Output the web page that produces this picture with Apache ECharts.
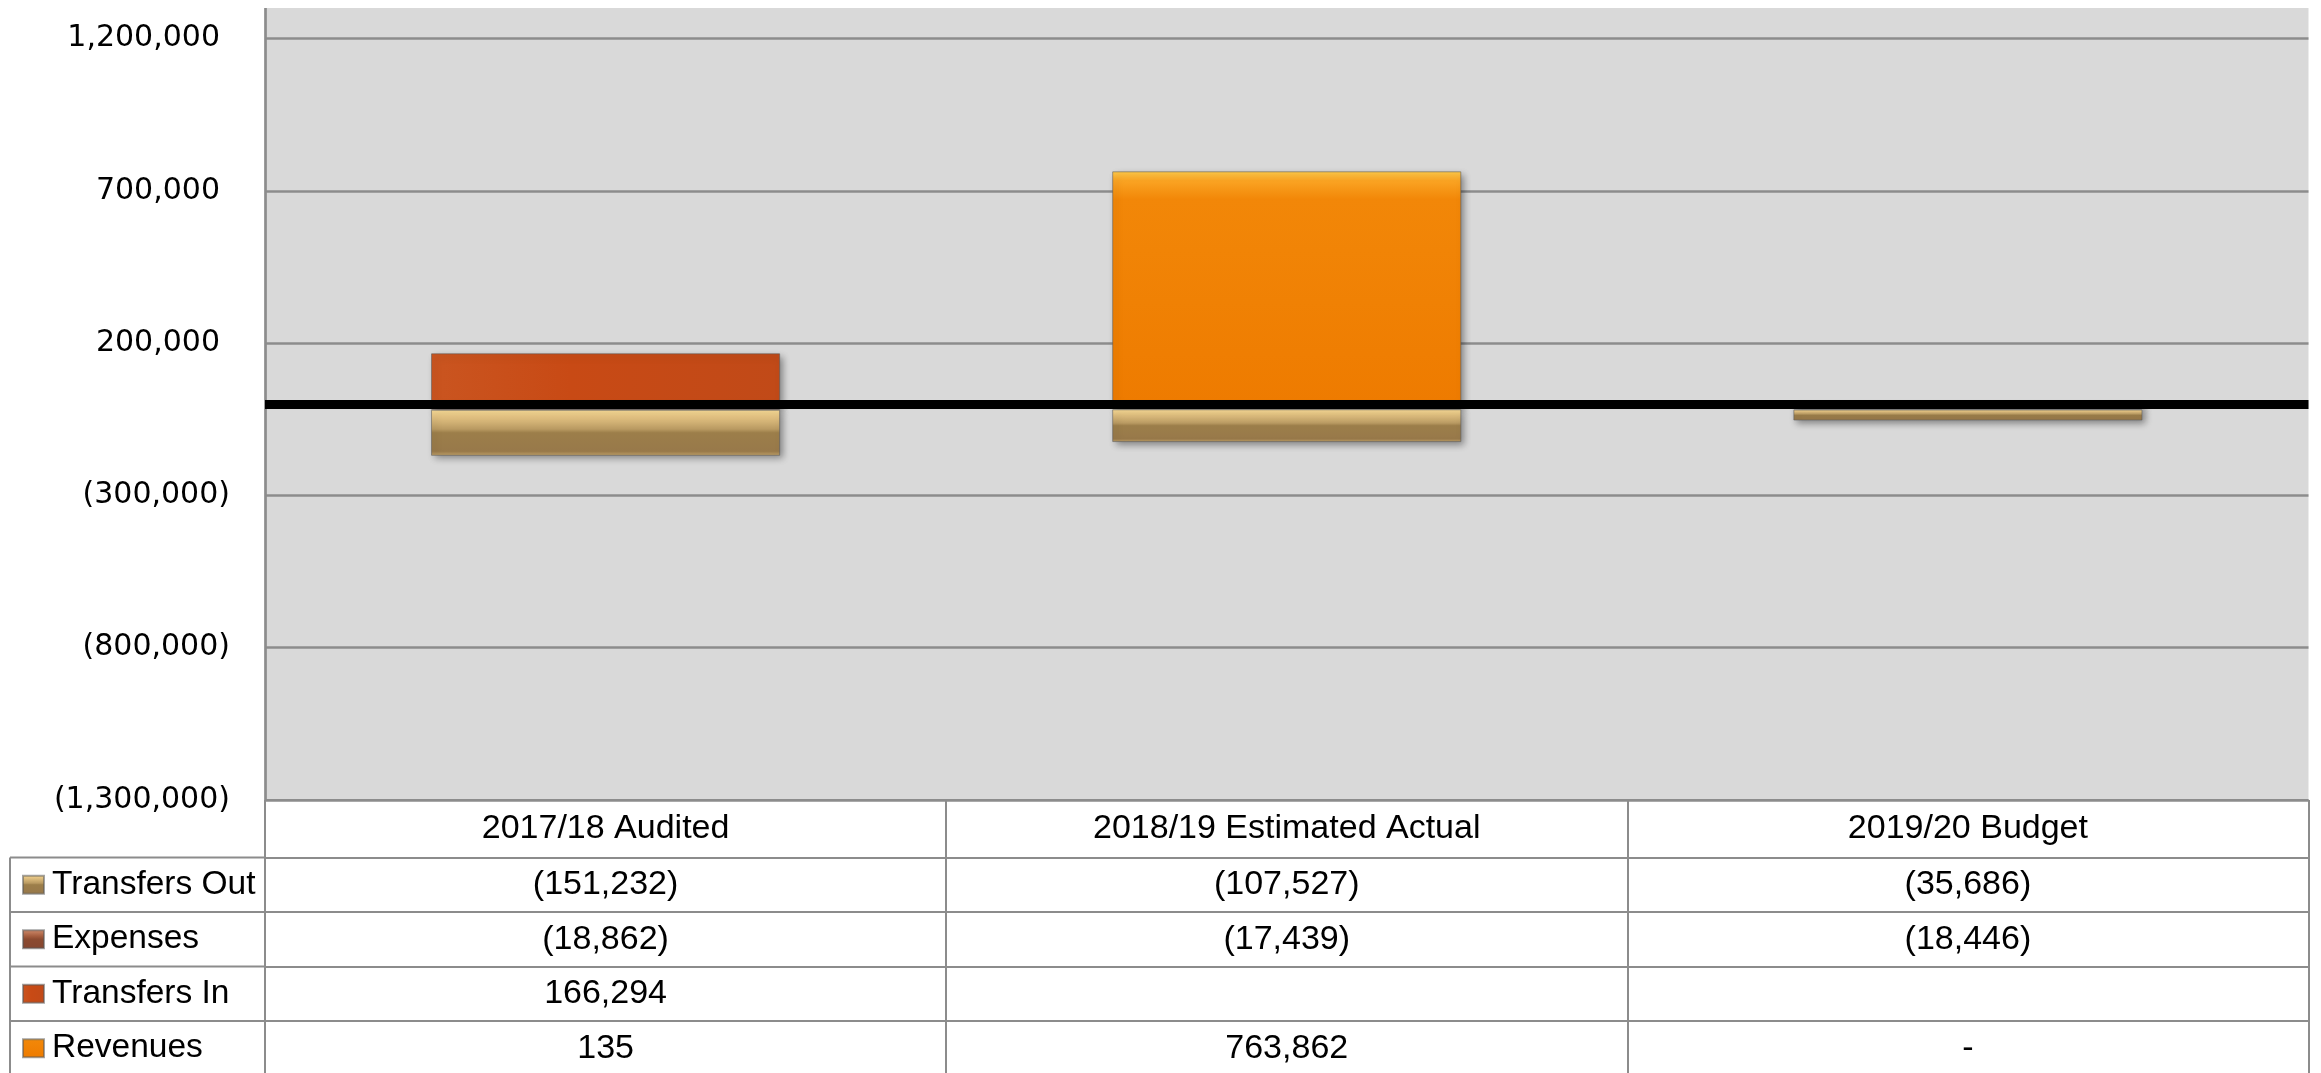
<!DOCTYPE html>
<html>
<head>
<meta charset="utf-8">
<script src="https://cdn.jsdelivr.net/npm/echarts@6/dist/echarts.min.js"></script>
<style>
  html, body { margin: 0; padding: 0; background: #ffffff; }
  #chart { width: 2321px; height: 1073px; }
</style>
</head>
<body>
<div id="chart"></div>
<script>
// ---- data ----
const categories = ['2017/18 Audited', '2018/19 Estimated Actual', '2019/20 Budget'];
const revenues = [135, 763862, 0];
const transfersIn = [166294, null, null];
const expenses = [-18862, -17439, -18446];
const transfersOut = [-151232, -107527, -35686];

const yMin = -1300000;
const yMax = 1300000;
const yStep = 500000;

// rows of the data table, top to bottom
const tableRowNames = ['Transfers Out', 'Expenses', 'Transfers In', 'Revenues'];
const tableRowValues = [transfersOut, expenses, transfersIn, revenues];

// ---- layout ----
const W = 2321, H = 1073;
const gridLeft = 265, gridRight = 12.5, gridTop = 8, gridBottom = 273;
const plotBottom = H - gridBottom;
const headerH = 57.5, rowH = 54.5;
const tableLeft = 10;
const lineGray = '#8C8C8C';
const tableFont = 'Liberation Sans';
const axisFont = 'DejaVu Sans';

const fmtNum = v => Math.abs(v).toLocaleString('en-US');
const fmtCell = v => (v === null || v === undefined) ? '' : (v === 0 ? '-' : (v < 0 ? '(' + fmtNum(v) + ')' : fmtNum(v)));

// ---- fills ----
const lin = (x, y, x2, y2, stops) => ({
  type: 'linear', x, y, x2, y2,
  colorStops: stops.map(s => ({ offset: s[0], color: s[1] }))
});
const fillRevenues = lin(0, 0, 0, 1, [[0, '#FFCB4A'], [0.04, '#FAA423'], [0.12, '#F28708'], [1, '#EE7B00']]);
const fillTransfersIn = lin(0, 0, 1, 0, [[0, '#CA5520'], [0.4, '#C84A15'], [1, '#C14A18']]);
const fillExpenses = lin(0, 0, 0, 1, [[0, '#D39070'], [0.35, '#A45C3E'], [0.5, '#8B4A30'], [1, '#854630']]);
const fillTransfersOut = lin(0, 0, 0, 1, [[0, '#F5D995'], [0.14, '#E6C584'], [0.42, '#B99A62'], [0.5, '#9C7E4A'], [0.9, '#98794A'], [1, '#C2A36A']]);

const barShadow = {
  shadowBlur: 7, shadowOffsetX: 3, shadowOffsetY: 3, shadowColor: 'rgba(0,0,0,0.4)',
  borderColor: 'rgba(90,90,90,0.55)', borderWidth: 1
};

const makeBar = (name, data, color) => ({
  name, type: 'bar', stack: 'total', data,
  xAxisIndex: 0, yAxisIndex: 0,
  barWidth: '51.25%',
  itemStyle: Object.assign({ color }, barShadow)
});

// ---- table axes: header row + one axis per data row ----
const tableAxes = [];
tableAxes.push({
  type: 'category', data: categories, gridIndex: 0, position: 'bottom', offset: 0,
  axisLine: { show: true, onZero: false, lineStyle: { color: lineGray, width: 2, cap: 'butt' } },
  axisTick: { show: true, interval: 0, length: headerH, lineStyle: { color: lineGray, width: 2 } },
  axisLabel: {
    interval: 0, margin: headerH / 2, verticalAlign: 'middle',
    fontFamily: tableFont, fontSize: 34, color: '#000'
  },
  splitLine: { show: false }
});
tableRowValues.forEach((vals, i) => {
  tableAxes.push({
    type: 'category', data: categories, gridIndex: 0, position: 'bottom',
    offset: headerH + i * rowH,
    axisLine: { show: true, onZero: false, lineStyle: { color: lineGray, width: 2, cap: 'butt' } },
    axisTick: { show: true, interval: 0, length: rowH + (i === tableRowValues.length - 1 ? 6 : 0), lineStyle: { color: lineGray, width: 2 } },
    axisLabel: {
      interval: 0, margin: rowH / 2, verticalAlign: 'middle',
      fontFamily: tableFont, fontSize: 34, color: '#000',
      formatter: (value, idx) => fmtCell(vals[idx])
    },
    splitLine: { show: false }
  });
});

// ---- left column borders of the table ----
const tableGraphics = [];
const headerBottom = plotBottom + headerH;
tableGraphics.push({
  type: 'line', silent: true,
  shape: { x1: tableLeft, y1: headerBottom, x2: tableLeft, y2: H + 4 },
  style: { stroke: lineGray, lineWidth: 2 }
});
for (let i = 0; i < tableRowNames.length; i++) {
  const y = headerBottom + i * rowH;
  tableGraphics.push({
    type: 'line', silent: true,
    shape: { x1: tableLeft, y1: y, x2: gridLeft, y2: y },
    style: { stroke: lineGray, lineWidth: 2 }
  });
}

const chart = echarts.init(document.getElementById('chart'), null, { renderer: 'canvas' });

chart.setOption({
  animation: false,
  backgroundColor: '#ffffff',
  grid: {
    left: gridLeft, right: gridRight, top: gridTop, bottom: gridBottom,
    show: true, backgroundColor: '#D9D9D9', borderWidth: 0
  },
  legend: {
    orient: 'vertical', left: 22, top: headerBottom + rowH / 2 - 17,
    padding: 0, itemGap: rowH - 34, itemWidth: 21, itemHeight: 18,
    selectedMode: false, icon: 'rect',
    data: tableRowNames,
    textStyle: { fontFamily: tableFont, fontSize: 33.5, lineHeight: 34, color: '#000', padding: [0, 0, 0, 3] }
  },
  xAxis: [
    {
      type: 'category', data: categories, gridIndex: 0, z: 5,
      axisLine: { show: true, onZero: true, lineStyle: { color: '#000', width: 9, cap: 'butt' } },
      axisTick: { show: false },
      axisLabel: { show: false },
      splitLine: { show: false }
    }
  ].concat(tableAxes),
  yAxis: {
    type: 'value', min: yMin, max: yMax, interval: yStep,
    axisLine: { show: true, lineStyle: { color: lineGray, width: 2.7, cap: 'butt' } },
    axisTick: { show: false },
    splitLine: { show: true, showMaxLine: false, lineStyle: { color: lineGray, width: 2.5 } },
    axisLabel: {
      showMaxLabel: false, margin: 35,
      fontFamily: axisFont, fontSize: 30, color: '#000',
      formatter: v => v < 0 ? '{n|(' + fmtNum(v) + ')}' : '{p|' + fmtNum(v) + '}',
      rich: {
        n: { fontFamily: axisFont, fontSize: 30, color: '#000' },
        p: { fontFamily: axisFont, fontSize: 30, color: '#000', padding: [0, 10, 0, 0] }
      }
    }
  },
  graphic: tableGraphics,
  series: [
    makeBar('Revenues', revenues, fillRevenues),
    makeBar('Transfers In', transfersIn, fillTransfersIn),
    makeBar('Expenses', expenses, fillExpenses),
    makeBar('Transfers Out', transfersOut, fillTransfersOut)
  ]
});
</script>
</body>
</html>
